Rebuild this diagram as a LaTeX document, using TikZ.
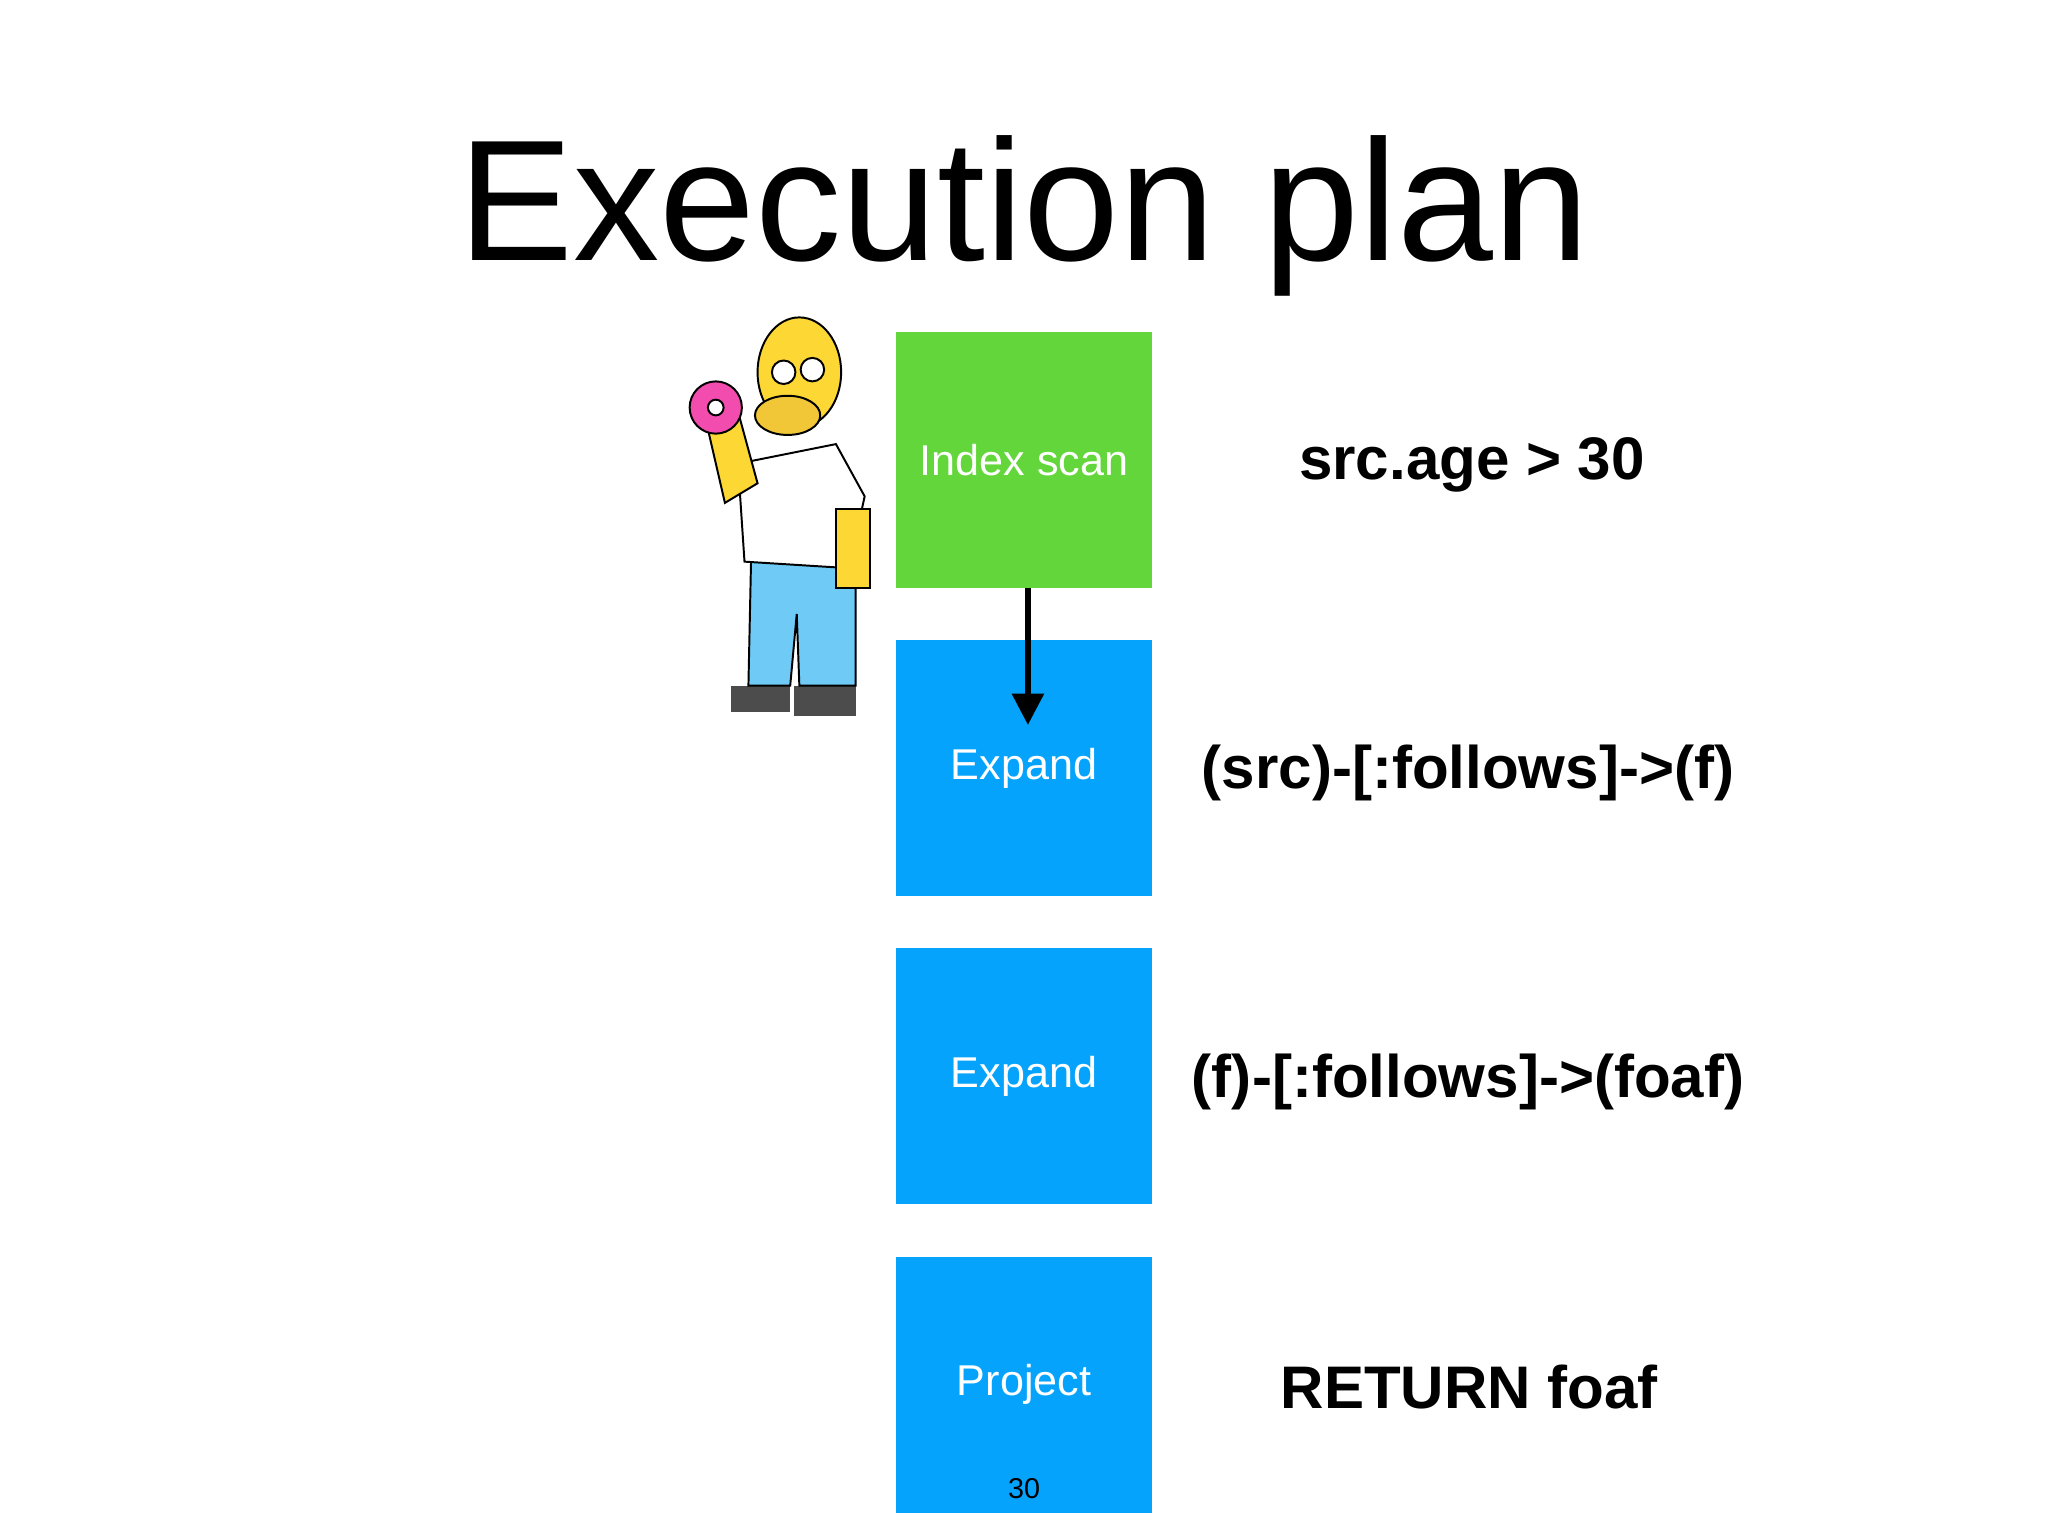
\documentclass[tikz,border=0pt]{standalone}
\usepackage{fontspec}
\setmainfont{Liberation Sans}
\usetikzlibrary{arrows.meta}
\definecolor{grn}{HTML}{62D63A}
\definecolor{blu}{HTML}{06A3FD}
\definecolor{hy}{HTML}{FDD835}
\definecolor{hp}{HTML}{6FCBF5}
\begin{document}
\begin{tikzpicture}[x=1pt,y=-1pt,
  box/.style={minimum width=196pt,minimum height=196pt,inner sep=0pt,text=white,font=\fontsize{33}{36}\selectfont},
  lab/.style={font=\fontsize{46}{50}\selectfont\bfseries}]
\useasboundingbox (0,0) rectangle (1568,1176);
\node[font=\fontsize{132}{140}\selectfont] (title) at (784,165) {Execution plan};
\node[box,fill=grn] (b1) at (784,352) {Index scan};
\node[box,fill=blu] (b2) at (784,588) {Expand};
\node[box,fill=blu] (b3) at (784,824) {Expand};
\node[box,fill=blu] (b4) at (784,1060) {Project};
\node[font=\fontsize{22}{24}\selectfont] (pg) at (784,1140) {30};
\node[lab] (l1) at (1127,356) {src.age > 30};
\node[lab] (l2) at (1124,592) {(src)-[:follows]->(f)};
\node[lab] (l3) at (1124,828) {(f)-[:follows]->(foaf)};
\node[lab] (l4) at (1125,1062) {RETURN foaf};
\coordinate (at) at (787,555);
\draw[line width=4pt,-{Triangle[length=24pt,width=24pt]}] (787,450) -- (at);
% Homer (rough)
\begin{scope}[line width=1.5pt]
\fill[black!70] (560,525) rectangle (605,545);
\fill[black!70] (608,525) rectangle (655,548);
\fill[hp,draw=black] (575,430) -- (655,430) -- (655,525) -- (612,525) -- (610,470) -- (605,525) -- (573,525) -- cycle;
\fill[white,draw=black] (565,355) -- (640,340) -- (662,380) -- (650,435) -- (570,430) -- cycle;
\fill[hy,draw=black] (640,390) rectangle (666,450);
\fill[hy,draw=black] (540,320) -- (565,315) -- (580,370) -- (555,385) -- cycle;
\fill[hy,draw=black] (612,285) ellipse (32 and 42);
\fill[hy!80!brown,draw=black] (603,318) ellipse (25 and 15);
\fill[white,draw=black] (600,285) circle (9);
\fill[white,draw=black] (622,283) circle (9);
\fill[magenta!70,draw=black] (548,312) circle (20);
\fill[white,draw=black] (548,312) circle (6);
\end{scope}
\end{tikzpicture}
\end{document}
